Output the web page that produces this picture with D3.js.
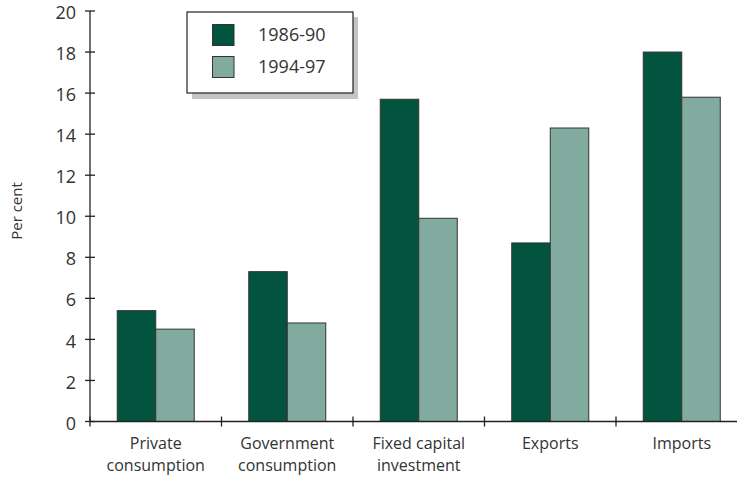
<!DOCTYPE html>
<html><head><meta charset="utf-8">
<script src="https://cdn.jsdelivr.net/npm/d3@7"></script>
<style>body{margin:0;background:#fff}svg{display:block}text{font-family:"Open Sans",Lato,sans-serif;fill:#333}</style>
</head><body>
<svg id="c" width="737" height="481"></svg>
<script>
const categories = [["Private","consumption"],["Government","consumption"],["Fixed capital","investment"],["Exports"],["Imports"]];
const series = ["1986-90","1994-97"];
const values1986 = [5.4, 7.3, 15.7, 8.7, 18.0];
const values1994 = [4.5, 4.8, 9.9, 14.3, 15.8];
const yTicks = [0,2,4,6,8,10,12,14,16,18,20];
const colors = ["#02543f","#82ab9f"];

const svg = d3.select("#c");
const x0 = 90, bandW = 131.5;
const x = d3.scaleBand().domain(d3.range(categories.length)).range([x0, x0 + bandW*categories.length]).paddingInner(0).paddingOuter(0);
const y = d3.scaleLinear().domain([0,20]).range([421.5, 11]);
const barW = 38.5;

const data = [values1986, values1994];
categories.forEach((c,i)=>{
  const cx = x(i) + x.bandwidth()/2;
  data.forEach((vals,s)=>{
    svg.append("rect")
      .attr("x", cx - barW + s*barW)
      .attr("y", y(vals[i]))
      .attr("width", barW)
      .attr("height", y(0) - y(vals[i]))
      .attr("fill", colors[s]).attr("stroke","#333").attr("stroke-width",1);
  });
  c.forEach((line,k)=>{
    svg.append("text").attr("x", cx).attr("y", 449 + k*22).attr("text-anchor","middle")
      .attr("font-size",16).text(line);
  });
});

// y axis
svg.append("line").attr("x1",x0).attr("x2",x0).attr("y1",y(20)).attr("y2",y(0)).attr("stroke","#222").attr("stroke-width",1.3);
yTicks.forEach(t=>{
  svg.append("line").attr("x1",x0-5).attr("x2",x0+5).attr("y1",y(t)).attr("y2",y(t)).attr("stroke","#222").attr("stroke-width",1.3);
  svg.append("text").attr("x",x0-14).attr("y",y(t)).attr("dy","0.45em").attr("text-anchor","end").attr("font-size",18).text(t);
});
// x axis
svg.append("line").attr("x1",x0).attr("x2",x0+bandW*categories.length).attr("y1",y(0)).attr("y2",y(0)).attr("stroke","#222").attr("stroke-width",1.3);
d3.range(categories.length+1).forEach(i=>{
  const xx = x0 + i*bandW;
  svg.append("line").attr("x1",xx).attr("x2",xx).attr("y1",y(0)-5).attr("y2",y(0)+5).attr("stroke","#222").attr("stroke-width",1.3);
});

svg.append("text").attr("transform","translate(17,211) rotate(-90)").attr("text-anchor","middle").attr("dy","0.36em").attr("font-size",15).text("Per cent");

// legend
const lg = svg.append("g");
lg.append("rect").attr("x",192).attr("y",17).attr("width",166).attr("height",82).attr("fill","#c4c4c4");
lg.append("rect").attr("x",187).attr("y",12).attr("width",166).attr("height",81).attr("fill","#fff").attr("stroke","#222").attr("stroke-width",1.2);
series.forEach((s,i)=>{
  lg.append("rect").attr("x",212.5).attr("y",24.5+i*32).attr("width",21.5).attr("height",21).attr("fill",colors[i]).attr("stroke","#333");
  lg.append("text").attr("x",258).attr("y",35+i*32).attr("dy","0.36em").attr("font-size",18).text(s);
});
</script>
</body></html>
